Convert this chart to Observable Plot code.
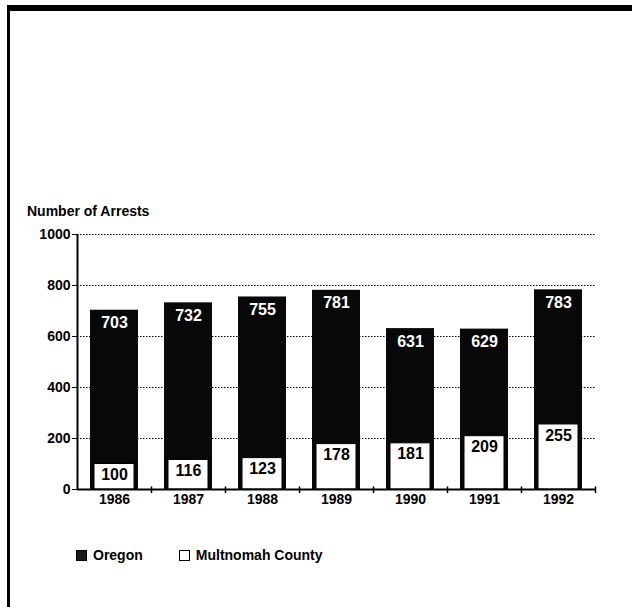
<!DOCTYPE html>
<html><head><meta charset="utf-8">
<script src="https://cdn.jsdelivr.net/npm/d3@7"></script>
<script src="https://cdn.jsdelivr.net/npm/@observablehq/plot@0.6"></script>
<style>
body{margin:0;background:#fff;}
#wrap{position:relative;width:632px;height:607px;overflow:hidden;font-family:"Liberation Sans",Arial,sans-serif;font-weight:bold;color:#000;}
#frame{position:absolute;left:7px;top:5px;width:640px;height:620px;border-top:6px solid #000;border-left:3px solid #000;}
#chart{position:absolute;left:0;top:0;}
#ylabel{position:absolute;left:27px;top:203px;font-size:14px;white-space:nowrap;}
#legend{position:absolute;left:76px;top:547px;font-size:14px;display:flex;align-items:center;white-space:nowrap;}
.sw{display:inline-block;width:9px;height:9px;border:1.5px solid #000;margin-right:6px;}
</style></head>
<body>
<div id="wrap">
  <div id="frame"></div>
  <div id="chart"></div>
  <div id="ylabel">Number of Arrests</div>
  <div id="legend"><span class="sw" style="background:#1a1a1a"></span><span>Oregon</span><span style="display:inline-block;width:36px"></span><span class="sw" style="background:#fff"></span><span>Multnomah County</span></div>
</div>
<script>
const years = ["1986", "1987", "1988", "1989", "1990", "1991", "1992"];
const oregon = [703, 732, 755, 781, 631, 629, 783];
const multnomah = [100, 116, 123, 178, 181, 209, 255];
const yTicks = [0, 200, 400, 600, 800, 1000];
const gridLines = [200, 400, 600, 800, 1000];

const rows = years.map((y, i) => ({year: y, oregon: oregon[i], multnomah: multnomah[i]}));

const plot = Plot.plot({
  width: 632,
  height: 510,
  marginLeft: 77,
  marginRight: 37,
  marginTop: 234,
  marginBottom: 21,
  style: {fontFamily: '"Liberation Sans", Arial, sans-serif', fontWeight: "bold", fontSize: "13px", background: "transparent", color: "#000"},
  x: {domain: years, paddingInner: 0.35, paddingOuter: 0.175, axis: null},
  y: {domain: [0, 1000], axis: null},
  marks: [
    Plot.ruleY(gridLines, {y: d => d, stroke: "#000", strokeWidth: 1, strokeDasharray: "1.5,1.5"}),
    Plot.barY(rows, {x: "year", y: "oregon", fill: "#080808"}),
    Plot.barY(rows, {x: "year", y: "multnomah", fill: "#fff", stroke: "#000", strokeWidth: 1, insetLeft: 4, insetRight: 4}),
    Plot.text(rows, {x: "year", y: "oregon", text: d => String(d.oregon), fill: "#fff", dy: 13, fontSize: 16, fontWeight: "bold"}),
    Plot.text(rows, {x: "year", y: "multnomah", text: d => String(d.multnomah), fill: "#000", dy: 11, fontSize: 16, fontWeight: "bold"}),
    Plot.ruleY([0], {stroke: "#000", strokeWidth: 2}),
    Plot.ruleX([years[0]], {x: d => d, dx: -37, y1: 0, y2: 1000, stroke: "#000", strokeWidth: 2}),
    Plot.ruleX(years, {x: d => d, dx: 37, y1: -16, y2: 10, stroke: "#000", strokeWidth: 1.5}),
    Plot.axisY({ticks: yTicks, tickFormat: d => String(d), tickSize: 5, tickPadding: 2, fontSize: 14, label: null}),
    Plot.axisX({tickSize: 0, tickPadding: 5, fontSize: 14, label: null})
  ]
});
document.getElementById("chart").appendChild(plot);
</script>
</body></html>
